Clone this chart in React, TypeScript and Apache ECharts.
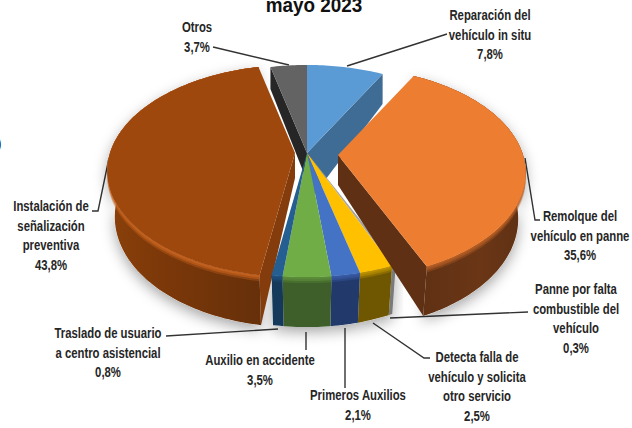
import React, { useEffect, useRef } from "react";
import * as echarts from "echarts";

const categories = [
  "Reparación del vehículo in situ",
  "Remolque del vehículo en panne",
  "Panne por falta combustible del vehículo",
  "Detecta falla de vehículo y solicita otro servicio",
  "Primeros Auxilios",
  "Auxilio en accidente",
  "Traslado de usuario a centro asistencial",
  "Instalación de señalización preventiva",
  "Otros",
];
const values = [7.8, 35.6, 0.3, 2.5, 2.1, 3.5, 0.8, 43.8, 3.7];
const title = "mayo 2023";
const labelLines = [
  ["Reparación del", "vehículo in situ"],
  ["Remolque del", "vehículo en panne"],
  ["Panne por falta", "combustible del", "vehículo"],
  ["Detecta falla de", "vehículo y solicita", "otro servicio"],
  ["Primeros Auxilios"],
  ["Auxilio en accidente"],
  ["Traslado de usuario", "a centro asistencial"],
  ["Instalación de", "señalización", "preventiva"],
  ["Otros"],
];

// layout and styling
const topColors = ["#5b9bd5", "#ed7d31", "#a5a5a5", "#ffc000", "#4472c4", "#70ad47", "#255e91", "#9e480e", "#636363"];
const wallColors = ["#3f6c95", "#5f3014", "#7a7a7a", "#6f5600", "#223a6b", "#3f5f2a", "#15395b", "#6e3208", "#262626"];
const cutColors = ["#3f6c95", "#5f3014", "#8a8a8a", "#6f5600", "#223a6b", "#3f5f2a", "#15395b", "#843c0c", "#262626"];
const bevelColors = ["#5b9bd5", "#b85f24", "#a5a5a5", "#c09400", "#3a5ca8", "#5c8f3a", "#20527f", "#c9641f", "#636363"];
const apexes = [[307,153],[338,155],[307,153],[307,153],[307,153],[307,153],[307,153],[295,153],[307,153]];
const apexDepth = [51,30,40,40,40,40,40,25,28];
const layer = [2,7,4,5,5,5,5,4,3];
const labelCenter = [490,580,576,477,358,260,108,51,197];
const labelTop = [15,216,289,357,395,360,333,206,27];
const leaders = [
  [[447,34],[347,66]],
  [[525,158],[535,220],[540,220]],
  [[390,318],[528,312]],
  [[373,323],[424,358],[430,358]],
  [[345,328],[345,388]],
  [[306,332],[306,350]],
  [[278,329],[166,336]],
  [[92,211],[98,211],[109,158]],
  [[213,47],[289,65]],
];
const R = 185, RK = 103, P = 0.17, LINE = 19.7;

function proj(ax: number, ay: number, a: number) {
  const u = Math.sin(a), v = -Math.cos(a), s = 1 / (1 - P * v);
  return { x: ax + R * u * s, y: ay + RK * v * s, v };
}
function rimDepth(v: number) { return v > 0 ? 45 + 5 * v : Math.max(28, 45 + 17 * v); }
function lower(ax: number, p: { x: number; y: number; v: number }) {
  const k = 1 - 0.04 * Math.min(1, Math.max(0, (p.v + 0.9) / 0.9));
  return [ax + (p.x - ax) * k, p.y + rimDepth(p.v)];
}

function renderSlice(params: any, api: any) {
  const i = params.dataIndex;
  const total = values.reduce((a, b) => a + b, 0);
  let acc = 0;
  for (let j = 0; j < i; j++) acc += values[j];
  const a0 = (acc / total) * Math.PI * 2;
  const a1 = ((acc + api.value(1)) / total) * Math.PI * 2;
  const [ax, ay] = apexes[i];
  const rim: any[] = [];
  const n = Math.max(2, Math.ceil((a1 - a0) / 0.02));
  for (let k = 0; k <= n; k++) rim.push(proj(ax, ay, a0 + ((a1 - a0) * k) / n));
  const topPts = rim.map((p) => [p.x, p.y]);
  const z = layer[i] * 10;
  const children: any[] = [];
  const wallPts = topPts.concat(rim.slice().reverse().map((p) => lower(ax, p)));
  const apexB = [ax, ay + apexDepth[i]];
  const hasOuter = i !== 0 && i !== 8;
  if (hasOuter) {
    children.push({
      type: "polygon", z2: 1, shape: { points: wallPts },
      style: { fill: "#fff", shadowBlur: 14, shadowColor: "rgba(0,0,0,0.35)", shadowOffsetY: 5 },
    });
  }
  // cut walls: only the faces turned towards the viewer
  const first = rim[0], last = rim[rim.length - 1];
  if (i === 0 || i === 1) {
    children.push({ type: "polygon", z2: z, shape: { points: [[ax, ay], [last.x, last.y], lower(ax, last), apexB] }, style: { fill: cutColors[i] } });
  }
  if (i === 7) {
    children.push({ type: "polygon", z2: z, shape: { points: [[ax, ay], [first.x, first.y], lower(ax, first), apexB] }, style: { fill: cutColors[i] } });
  }
  if (i === 8) {
    children.push({ type: "polygon", z2: z, shape: { points: [[ax, ay], [first.x, first.y], [first.x, first.y + 22], apexB] }, style: { fill: cutColors[i] } });
  }
  if (hasOuter) {
    const isWide = i === 1 || i === 7;
    children.push({
      type: "polygon", z2: z + 2, shape: { points: wallPts },
      style: {
        fill: isWide
          ? new echarts.graphic.LinearGradient(0, 0, 1, 0, i === 7
            ? [
                { offset: 0, color: "#8a400a" },
                { offset: 0.35, color: "#7c3809" },
                { offset: 1, color: "#66300a" },
              ]
            : [
                { offset: 0, color: wallColors[i] },
                { offset: 0.6, color: "#6a3616" },
                { offset: 1, color: wallColors[i] },
              ])
          : wallColors[i],
      },
    });
    // bevel bands fading down from the rim
    [6, 4, 2].forEach((b, q) => {
      const band = topPts.concat(rim.slice().reverse().map((p) => [p.x, p.y + b]));
      children.push({
        type: "polygon", z2: z + 3 + q, shape: { points: band },
        style: { fill: bevelColors[i], opacity: 0.35 + q * 0.2 },
      });
    });
  }
  // top surface
  children.push({
    type: "polygon", z2: z + 7, shape: { points: [[ax, ay]].concat(topPts) },
    style: { fill: topColors[i] },
  });
  return { type: "group", children };
}

function buildGraphics() {
  const els: any[] = [];
  els.push({ type: "text", x: -3, y: 143, scaleX: 0.8, style: { text: ")", font: "17px 'Liberation Sans'", fill: "#222", textAlign: "left", textVerticalAlign: "middle" } });
  els.push({ type: "text", x: 314, y: 5, scaleX: 0.9, style: { text: title, font: "bold 21px 'Liberation Sans'", fill: "#111", textAlign: "center", textVerticalAlign: "middle" } });
  categories.forEach((_, i) => {
    const lines = labelLines[i].concat(values[i].toFixed(1).replace(".", ",") + "%");
    lines.forEach((t, k) => {
      els.push({
        type: "text", x: labelCenter[i], y: labelTop[i] + k * LINE, scaleX: 0.81,
        style: { text: t, font: "bold 14px 'Liberation Sans'", fill: "#262626", textAlign: "center", textVerticalAlign: "middle" },
      });
    });
    els.push({ type: "polyline", z: 1, shape: { points: leaders[i] }, style: { stroke: "#333", lineWidth: 1.4, fill: "none" } });
  });
  return els;
}

export default function App() {
  const ref = useRef<HTMLDivElement>(null);
  useEffect(() => {
    document.body.style.margin = "0";
    const chart = echarts.init(ref.current!, undefined, { renderer: "svg" });
    chart.setOption({
      animation: false,
      backgroundColor: "#fff",
      graphic: buildGraphics(),
      series: [
        {
          type: "custom",
          coordinateSystem: "none",
          renderItem: renderSlice,
          data: categories.map((c, i) => ({ name: c, value: [i, values[i]] })),
          silent: true,
        },
      ],
    });
    return () => chart.dispose();
  }, []);
  return <div ref={ref} style={{ width: 632, height: 428 }} />;
}
